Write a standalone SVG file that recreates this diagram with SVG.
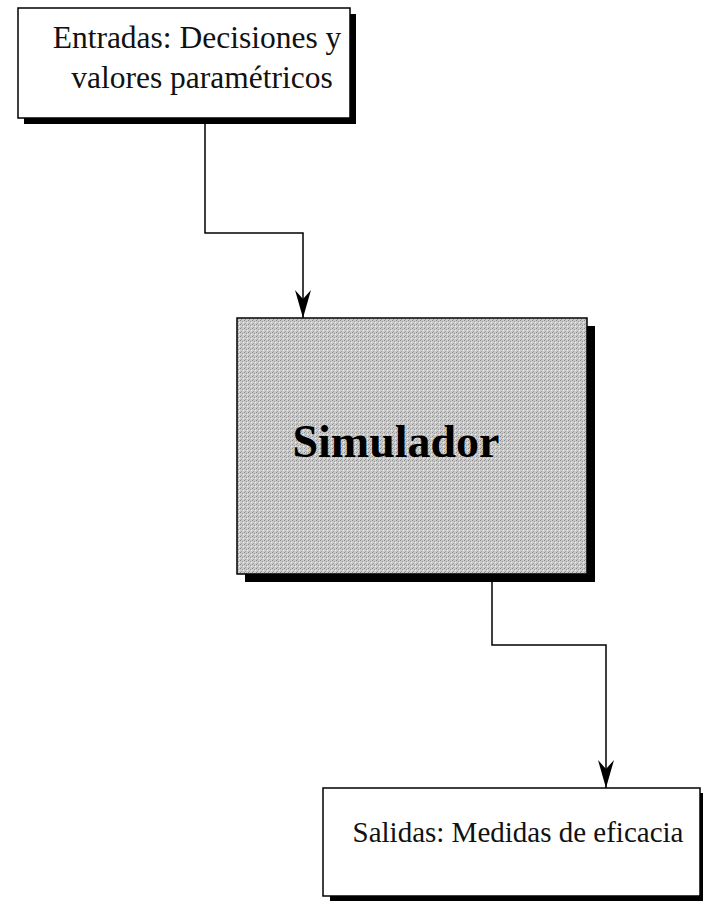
<svg xmlns="http://www.w3.org/2000/svg" width="703" height="904" viewBox="0 0 703 904">
<style>
.box{fill:#fff;stroke:#000;stroke-width:1.5}
.shadow{fill:#000}
.lbl{font-family:"Liberation Serif","Times New Roman",serif;font-size:31.5px;fill:#111;text-anchor:middle}
.lbl2{font-family:"Liberation Serif","Times New Roman",serif;font-size:29px;fill:#111;text-anchor:middle}
.big{font-family:"Liberation Serif","Times New Roman",serif;font-size:46px;font-weight:bold;fill:#000;text-anchor:middle}
.conn{fill:none;stroke:#000;stroke-width:1.5}
</style>
<defs>
<marker id="arrow" markerWidth="28" markerHeight="16" refX="28" refY="8" orient="auto" markerUnits="userSpaceOnUse" viewBox="0 0 28 16">
<path d="M0,0 L9,8 L0,16 L28,8 Z" fill="#000"/>
</marker>
<pattern id="stip" width="4" height="4" patternUnits="userSpaceOnUse">
<rect width="4" height="4" fill="#cacaca"/>
<rect x="0" y="0" width="1" height="1" fill="#8a8a8a"/>
<rect x="2" y="1" width="1" height="1" fill="#9a9a9a"/>
<rect x="1" y="3" width="1" height="1" fill="#a0a0a0"/>
<rect x="3" y="2" width="1" height="1" fill="#f0f0f0"/>
</pattern>
</defs>
<g id="connectors">
<path class="conn" d="M205,124 V233 H303 V318" marker-end="url(#arrow)"/>
<path class="conn" d="M492,582 V645 H606 V788" marker-end="url(#arrow)"/>
</g>
<g id="entradas">
<rect class="shadow" x="24" y="14" width="332" height="110"/>
<rect class="box" x="18" y="8" width="332" height="110"/>
<text class="lbl" x="197" y="48">Entradas: Decisiones y</text>
<text class="lbl" x="202" y="88">valores paramétricos</text>
</g>
<g id="simulador">
<rect class="shadow" x="245" y="326" width="350" height="256"/>
<rect x="237" y="318" width="350" height="256" fill="url(#stip)" stroke="#000" stroke-width="1.5"/>
<text class="big" x="396" y="457">Simulador</text>
</g>
<g id="salidas">
<rect class="shadow" x="330" y="793" width="377" height="108"/>
<rect class="box" x="323" y="788" width="377" height="108"/>
<text class="lbl2" x="518" y="842">Salidas: Medidas de eficacia</text>
</g>
</svg>
